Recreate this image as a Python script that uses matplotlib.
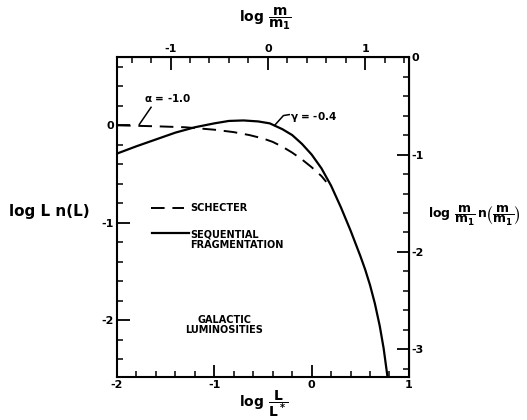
import matplotlib
matplotlib.use("Agg")
import matplotlib.pyplot as plt
from matplotlib.ticker import MultipleLocator, FuncFormatter

# Schechter function (dashed)
schechter_x = [-2.0, -1.6, -1.3, -1.0, -0.8, -0.64, -0.5, -0.4, -0.3, -0.2,
               -0.1, 0.0, 0.1, 0.15]
schechter_y = [0.0, -0.01, -0.02, -0.045, -0.07, -0.10, -0.135, -0.17, -0.22,
               -0.28, -0.35, -0.43, -0.52, -0.58]

# Sequential fragmentation (solid)
frag_x = [-2.0, -1.8, -1.6, -1.4, -1.2, -1.0, -0.85, -0.7, -0.55, -0.43,
          -0.3, -0.2, -0.1, 0.0, 0.1, 0.2, 0.3, 0.4, 0.5, 0.55, 0.6, 0.65,
          0.7, 0.74, 0.78]
frag_y = [-0.29, -0.215, -0.145, -0.075, -0.02, 0.02, 0.045, 0.05, 0.04, 0.02,
          -0.04, -0.10, -0.19, -0.30, -0.44, -0.62, -0.84, -1.08, -1.34, -1.48,
          -1.64, -1.83, -2.06, -2.29, -2.585]

# offsets between the axis scales
mass_offset = 0.45   # log m/m1 = log L/L* + 0.45
right_offset = 0.70  # right = left - 0.70

plt.rcParams["font.family"] = "DejaVu Sans"
plt.rcParams["font.weight"] = "bold"
plt.rcParams["mathtext.fontset"] = "dejavusans"


def fmt(v, pos):
    return "%d" % round(v)


def style_ticks(axis):
    axis.set_major_formatter(FuncFormatter(fmt))
    axis.set_minor_locator(MultipleLocator(0.2))


def main():
    fig = plt.figure(figsize=(5.27, 4.2), dpi=100)
    ax = fig.add_axes([0.222, 0.102, 0.554, 0.762])

    ax.plot(frag_x, frag_y, color="black", lw=1.6)
    ax.plot(schechter_x, schechter_y, color="black", lw=1.4, dashes=(7, 4))

    ax.set_xlim(-2, 1)
    ax.set_ylim(-2.585, 0.70)
    for s in ax.spines.values():
        s.set_linewidth(1.5)

    ax.set_xticks([-2, -1, 0, 1])
    ax.set_yticks([-2, -1, 0])
    style_ticks(ax.xaxis)
    style_ticks(ax.yaxis)
    ax.tick_params(which="major", direction="in", length=9, width=1.3,
                   labelsize=8, pad=2, top=False, right=False)
    ax.tick_params(which="minor", direction="in", length=4, width=1.1,
                   top=False, right=False)

    top = ax.secondary_xaxis("top", functions=(lambda x: x + mass_offset,
                                               lambda x: x - mass_offset))
    top.set_xticks([-1, 0, 1])
    style_ticks(top.xaxis)
    top.tick_params(which="major", direction="in", length=9, width=1.3,
                    labelsize=8, pad=2)
    top.tick_params(which="minor", direction="in", length=4, width=1.1)

    right = ax.secondary_yaxis("right", functions=(lambda y: y - right_offset,
                                                   lambda y: y + right_offset))
    right.set_yticks([-3, -2, -1, 0])
    style_ticks(right.yaxis)
    right.tick_params(which="major", direction="in", length=9, width=1.3,
                      labelsize=8, pad=2)
    right.tick_params(which="minor", direction="in", length=4, width=1.1)

    # axis labels
    fig.text(0.018, 0.497, "log L n(L)", fontsize=11, fontweight="bold",
             va="center", ha="left")
    fig.text(0.812, 0.485,
             r"$\mathbf{log}\ \dfrac{\mathbf{m}}{\mathbf{m_1}}\,\mathbf{n}\left(\dfrac{\mathbf{m}}{\mathbf{m_1}}\right)$",
             fontsize=9, va="center", ha="left")
    fig.text(0.503, 0.955, r"$\mathbf{log}\ \dfrac{\mathbf{m}}{\mathbf{m_1}}$",
             fontsize=10, va="center", ha="center")
    fig.text(0.5, 0.04, r"$\mathbf{log}\ \dfrac{\mathbf{L}}{\mathbf{L^*}}$",
             fontsize=10, va="center", ha="center")

    # annotations
    ax.text(-1.48, 0.28, r"$\mathbf{\alpha}$ = -1.0", fontsize=7.5,
            ha="center", va="center")
    ax.plot([-1.65, -1.77], [0.185, 0.01], color="black", lw=1.1)
    ax.text(-0.22, 0.09, r"$\mathbf{\gamma}$ = -0.4", fontsize=7.5,
            ha="left", va="center")
    ax.plot([-0.23, -0.29, -0.38], [0.11, 0.10, 0.0], color="black", lw=1.1)

    # legend drawn by hand
    ax.plot([-1.65, -1.31], [-0.85, -0.85], color="black", lw=1.4,
            dashes=(7, 4))
    ax.text(-1.25, -0.85, "SCHECTER", fontsize=7, ha="left", va="center")
    ax.plot([-1.64, -1.26], [-1.11, -1.11], color="black", lw=1.6)
    ax.text(-1.25, -1.175, "SEQUENTIAL\nFRAGMENTATION", fontsize=7,
            ha="left", va="center", linespacing=1.0)

    ax.text(-0.90, -2.05, "GALACTIC\nLUMINOSITIES", fontsize=7,
            ha="center", va="center", linespacing=1.1)

    fig.savefig("out.png", dpi=100)
    plt.close()


if __name__ == "__main__":
    main()
